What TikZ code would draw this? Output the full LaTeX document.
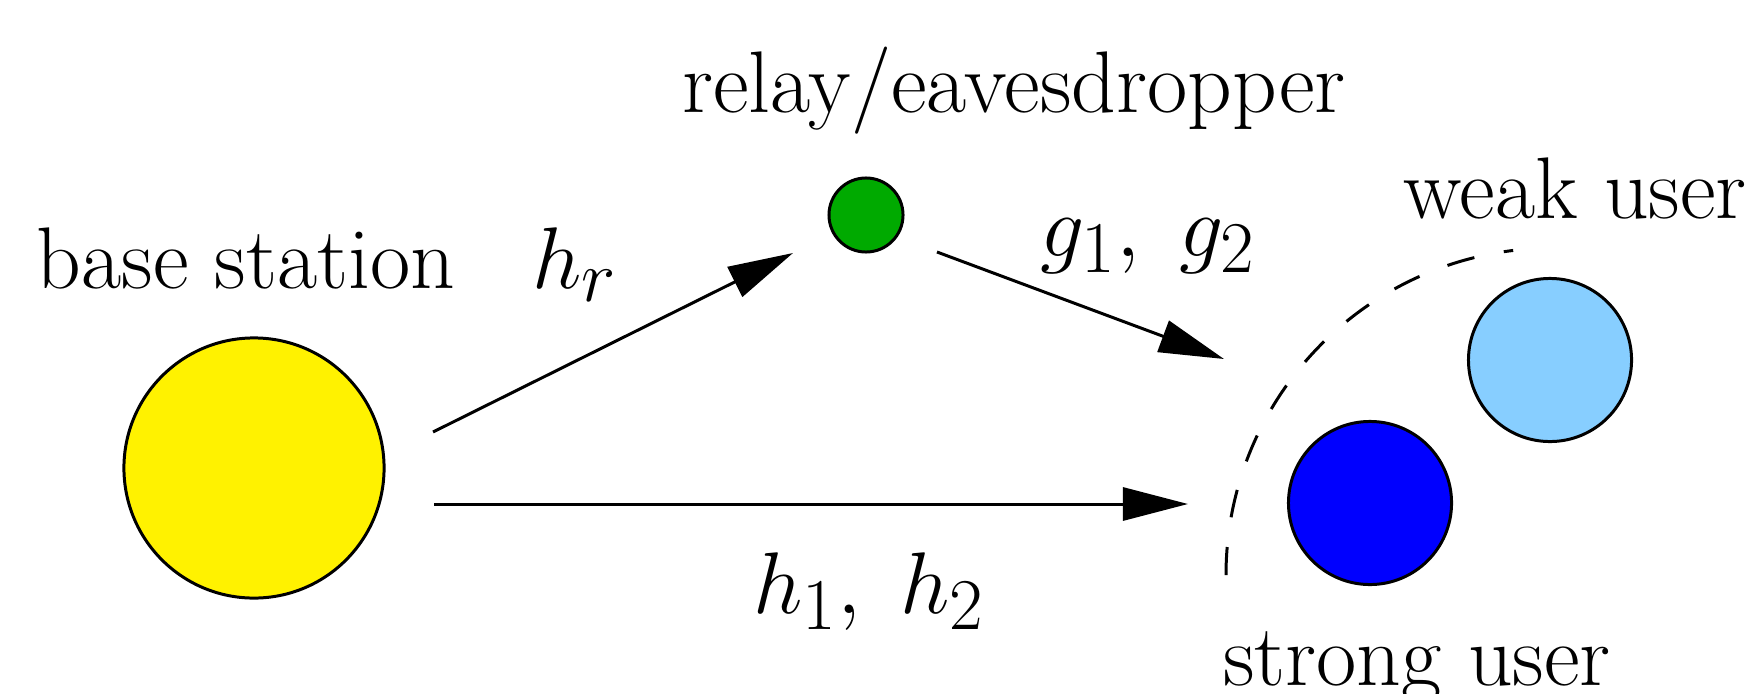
\documentclass[tikz,border=0pt]{standalone}
\usepackage{xcolor}
\usepackage{amsmath}
\usepackage{tikz}
\usetikzlibrary{arrows.meta,positioning}

\definecolor{relaygreen}{RGB}{0,170,0}
\definecolor{weakblue}{RGB}{135,206,255}

\begin{document}
\begin{tikzpicture}[x=0.01cm, y=0.01cm, >={Triangle[length=6.5mm,width=3.3mm]},
  user/.style={circle, draw, line width=0.85pt, inner sep=0pt, minimum size=16.3mm},
  lbl/.style={anchor=base, inner sep=0pt, font=\fontsize{24.88}{30}\selectfont},
  link/.style={->, line width=0.85pt}]
  \useasboundingbox (0,0) rectangle (1752,693);
  \node[user, fill=yellow, minimum size=26mm] (bs) at (254,225) {};
  \node[user, fill=relaygreen, minimum size=7.4mm] (relay) at (866,478) {};
  \node[user, fill=blue] (strong) at (1370,190) {};
  \node[user, fill=weakblue] (weak) at (1550,333) {};
  \node[lbl] (bslbl) at (246,405) {base station};
  \node[lbl] (relaylbl) at (1014,581) {relay/eavesdropper};
  \node[lbl] (weaklbl) at (1575,475) {weak user};
  \node[lbl] (stronglbl) at (1417,8) {strong user};
  % link end points
  \coordinate (hr-s) at (433,261);
  \coordinate (hr-e) at (793,440);
  \coordinate (g-s) at (937,441);
  \coordinate (g-e) at (1224,334);
  \coordinate (h-s) at (434,189);
  \coordinate (h-e) at (1188,189);
  \draw[link] (hr-s) -- (hr-e);
  \draw[link] (g-s) -- (g-e);
  \draw[link] (h-s) -- (h-e);
  \node[lbl] (hr) at (575,405) {$h_r$};
  \node[lbl] (g) at (1148,437) {$g_1,\; g_2$};
  \node[lbl] (h) at (869,80) {$h_1,\; h_2$};
  % coverage border
  \draw[line width=0.85pt, dash pattern=on 2.8mm off 3mm] (1226,118) arc (180:97:327);
\end{tikzpicture}
\end{document}
